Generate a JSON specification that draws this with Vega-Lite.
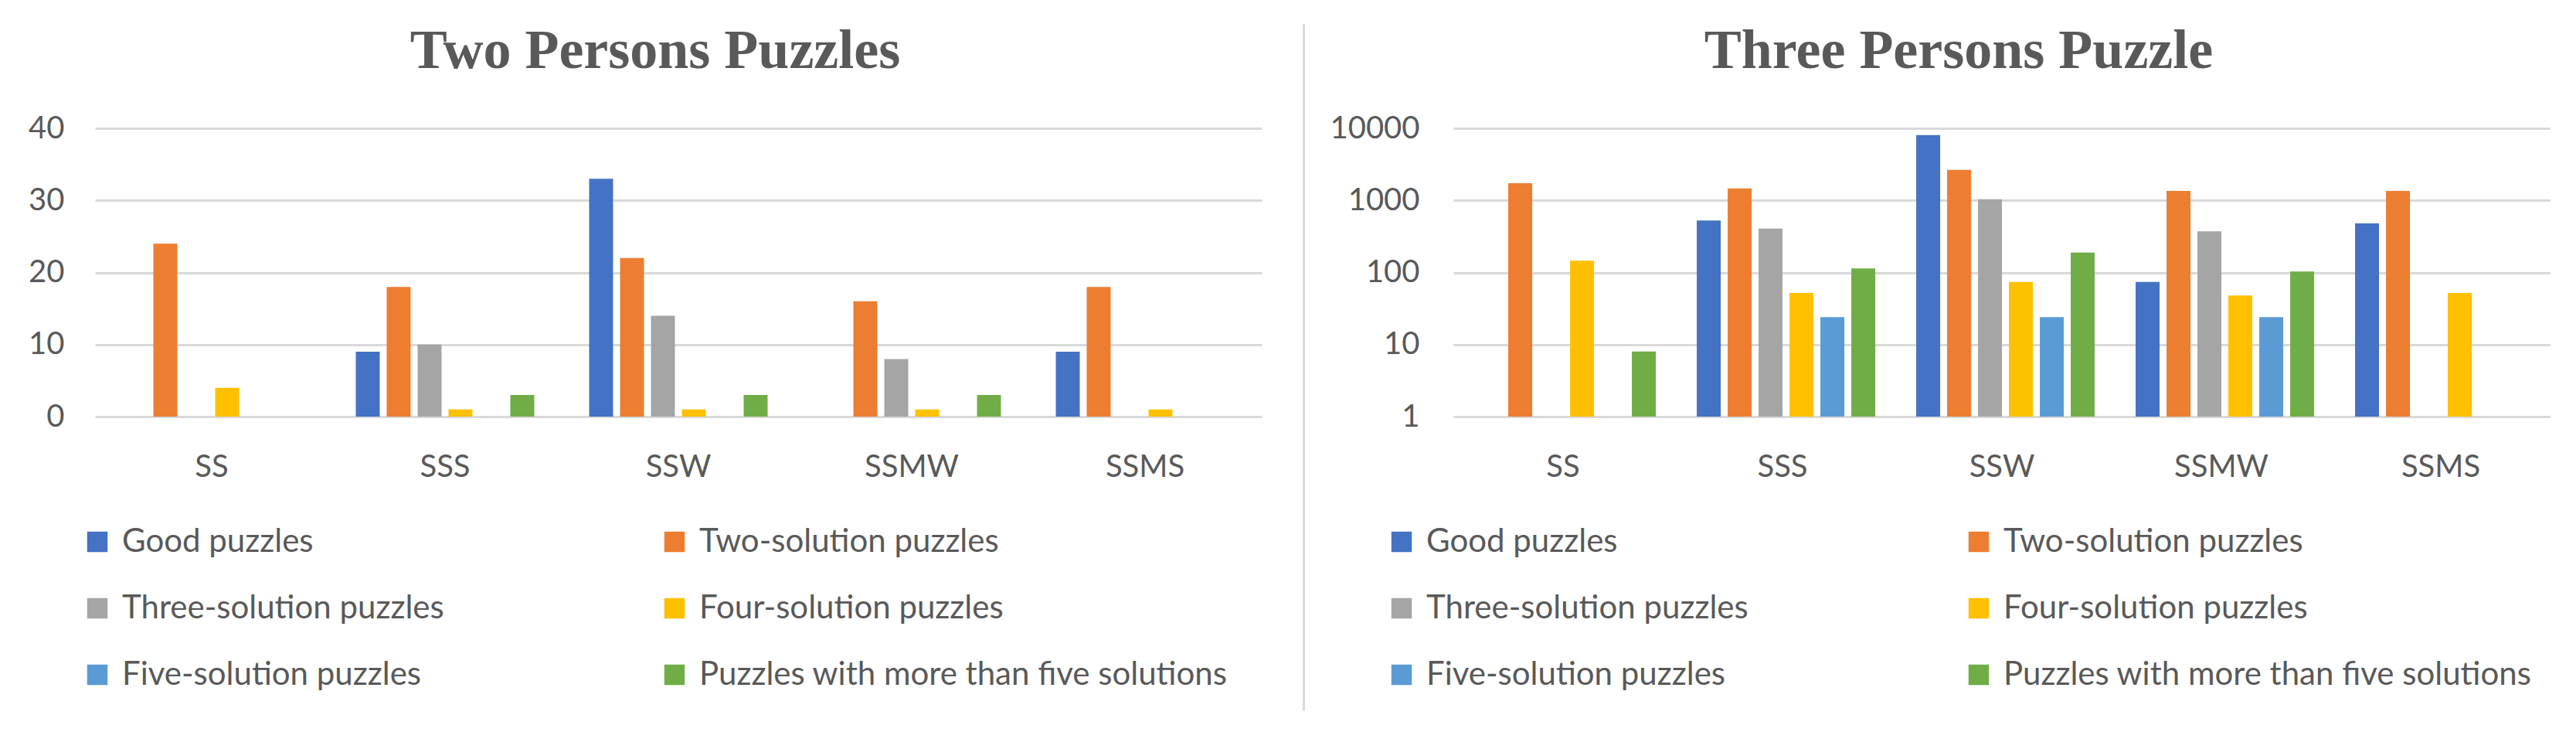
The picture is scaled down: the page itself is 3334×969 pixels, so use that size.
{
  "$schema": "https://vega.github.io/schema/vega-lite/v6.json",
  "background": "white",
  "padding": {"left": 36, "top": 30, "right": 0, "bottom": 0},
  "config": {
    "view": {"stroke": null},
    "font": "Lato",
    "axis": {"labelFont": "Lato", "labelFontSize": 40, "labelColor": "#595959", "ticks": false, "domain": false, "grid": false, "title": null},
    "legend": {"title": null, "orient": "none", "columns": 2, "direction": "horizontal", "symbolType": "square", "symbolSize": 700, "symbolStrokeWidth": 0, "labelFont": "Lato", "labelFontSize": 42, "labelColor": "#595959", "labelOffset": 11, "rowPadding": 44, "columnPadding": 10, "gridAlign": "all", "labelLimit": 1200},
    "title": {"font": "Liberation Serif", "fontSize": 72, "fontWeight": "bold", "color": "#595959", "anchor": "middle", "offset": 43}
  },
  "datasets": {
    "two": [
      {"structure": "SS", "series": "Two-solution puzzles", "count": 24},
      {"structure": "SS", "series": "Four-solution puzzles", "count": 4},
      {"structure": "SSS", "series": "Good puzzles", "count": 9},
      {"structure": "SSS", "series": "Two-solution puzzles", "count": 18},
      {"structure": "SSS", "series": "Three-solution puzzles", "count": 10},
      {"structure": "SSS", "series": "Four-solution puzzles", "count": 1},
      {"structure": "SSS", "series": "Puzzles with more than five solutions", "count": 3},
      {"structure": "SSW", "series": "Good puzzles", "count": 33},
      {"structure": "SSW", "series": "Two-solution puzzles", "count": 22},
      {"structure": "SSW", "series": "Three-solution puzzles", "count": 14},
      {"structure": "SSW", "series": "Four-solution puzzles", "count": 1},
      {"structure": "SSW", "series": "Puzzles with more than five solutions", "count": 3},
      {"structure": "SSMW", "series": "Two-solution puzzles", "count": 16},
      {"structure": "SSMW", "series": "Three-solution puzzles", "count": 8},
      {"structure": "SSMW", "series": "Four-solution puzzles", "count": 1},
      {"structure": "SSMW", "series": "Puzzles with more than five solutions", "count": 3},
      {"structure": "SSMS", "series": "Good puzzles", "count": 9},
      {"structure": "SSMS", "series": "Two-solution puzzles", "count": 18},
      {"structure": "SSMS", "series": "Four-solution puzzles", "count": 1}
    ],
    "three": [
      {"structure": "SS", "series": "Two-solution puzzles", "count": 1730},
      {"structure": "SS", "series": "Four-solution puzzles", "count": 146},
      {"structure": "SS", "series": "Puzzles with more than five solutions", "count": 8},
      {"structure": "SSS", "series": "Good puzzles", "count": 525},
      {"structure": "SSS", "series": "Two-solution puzzles", "count": 1470},
      {"structure": "SSS", "series": "Three-solution puzzles", "count": 407},
      {"structure": "SSS", "series": "Four-solution puzzles", "count": 52},
      {"structure": "SSS", "series": "Five-solution puzzles", "count": 24},
      {"structure": "SSS", "series": "Puzzles with more than five solutions", "count": 114},
      {"structure": "SSW", "series": "Good puzzles", "count": 8040},
      {"structure": "SSW", "series": "Two-solution puzzles", "count": 2660},
      {"structure": "SSW", "series": "Three-solution puzzles", "count": 1040},
      {"structure": "SSW", "series": "Four-solution puzzles", "count": 74},
      {"structure": "SSW", "series": "Five-solution puzzles", "count": 24},
      {"structure": "SSW", "series": "Puzzles with more than five solutions", "count": 189},
      {"structure": "SSMW", "series": "Good puzzles", "count": 74},
      {"structure": "SSMW", "series": "Two-solution puzzles", "count": 1350},
      {"structure": "SSMW", "series": "Three-solution puzzles", "count": 373},
      {"structure": "SSMW", "series": "Four-solution puzzles", "count": 48},
      {"structure": "SSMW", "series": "Five-solution puzzles", "count": 24},
      {"structure": "SSMW", "series": "Puzzles with more than five solutions", "count": 103},
      {"structure": "SSMS", "series": "Good puzzles", "count": 481},
      {"structure": "SSMS", "series": "Two-solution puzzles", "count": 1350},
      {"structure": "SSMS", "series": "Four-solution puzzles", "count": 52}
    ],
    "sep": [{"s": 0}, {"s": 1}]
  },
  "resolve": {"scale": {"color": "independent"}, "legend": {"color": "independent"}},
  "spacing": 30,
  "hconcat": [
    {
      "spacing": 54,
      "resolve": {"scale": {"color": "independent"}, "legend": {"color": "independent"}},
      "hconcat": [
        {
          "data": {"name": "two"},
          "width": 1510,
          "height": 373,
          "title": {"text": "Two Persons Puzzles", "dx": -30},
          "mark": {"type": "bar"},
          "encoding": {
            "x": {"field": "structure", "type": "nominal", "sort": ["SS", "SSS", "SSW", "SSMW", "SSMS"],
                  "scale": {"paddingInner": 0.2053, "paddingOuter": 0.1026},
                  "axis": {"labelAngle": 0, "labelPadding": 45}},
            "xOffset": {"field": "series", "type": "nominal",
                  "scale": {"domain": ["Good puzzles", "Two-solution puzzles", "Three-solution puzzles", "Four-solution puzzles", "Five-solution puzzles", "Puzzles with more than five solutions"], "paddingInner": 0.225, "paddingOuter": 0.1125}},
            "y": {"field": "count", "type": "quantitative", "stack": null, "scale": {"domain": [0, 40]},
                  "axis": {"values": [0, 10, 20, 30, 40], "grid": true, "gridColor": "#d9d9d9", "gridWidth": 3, "labelPadding": 40}},
            "color": {"field": "series", "type": "nominal",
                  "scale": {"domain": ["Good puzzles", "Two-solution puzzles", "Three-solution puzzles", "Four-solution puzzles", "Five-solution puzzles", "Puzzles with more than five solutions"],
                            "range": ["#4472C4", "#ED7D31", "#A5A5A5", "#FFC000", "#5B9BD5", "#70AD47"]},
                  "legend": {"legendX": -18, "legendY": 514}}
          }
        },
        {
          "data": {"name": "sep"},
          "width": 4,
          "height": 373,
          "mark": {"type": "rule", "opacity": 0},
          "encoding": {
            "y": {"field": "s", "type": "quantitative", "scale": {"domain": [0, 1], "range": [753, -135], "nice": false, "zero": false},
                  "axis": {"domain": true, "domainColor": "#d9d9d9", "domainWidth": 3, "labels": false, "grid": false, "ticks": false, "title": null, "minExtent": 0}}
          }
        }
      ]
    },
    {
      "data": {"name": "three"},
      "width": 1420,
      "height": 373,
      "title": {"text": "Three Persons Puzzle", "dx": -56},
      "mark": {"type": "bar"},
      "encoding": {
        "x": {"field": "structure", "type": "nominal", "sort": ["SS", "SSS", "SSW", "SSMW", "SSMS"],
              "scale": {"paddingInner": 0.187, "paddingOuter": 0.0935},
              "axis": {"labelAngle": 0, "labelPadding": 45}},
        "xOffset": {"field": "series", "type": "nominal",
              "scale": {"domain": ["Good puzzles", "Two-solution puzzles", "Three-solution puzzles", "Four-solution puzzles", "Five-solution puzzles", "Puzzles with more than five solutions"], "paddingInner": 0.195, "paddingOuter": 0.0975}},
        "y": {"field": "count", "type": "quantitative", "stack": null, "scale": {"type": "log", "domain": [1, 10000]},
              "axis": {"values": [1, 10, 100, 1000, 10000], "format": "d", "grid": true, "gridColor": "#d9d9d9", "gridWidth": 3, "labelPadding": 44}},
        "color": {"field": "series", "type": "nominal",
              "scale": {"domain": ["Good puzzles", "Two-solution puzzles", "Three-solution puzzles", "Four-solution puzzles", "Five-solution puzzles", "Puzzles with more than five solutions"],
                        "range": ["#4472C4", "#ED7D31", "#A5A5A5", "#FFC000", "#5B9BD5", "#70AD47"]},
              "legend": {"legendX": -88, "legendY": 514}}
      }
    }
  ]
}
